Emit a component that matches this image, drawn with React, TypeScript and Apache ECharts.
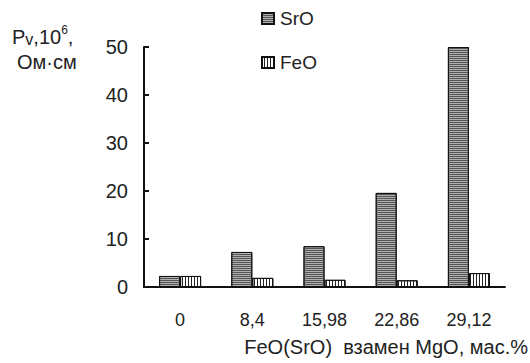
import React, { useEffect, useRef } from "react";
import * as echarts from "echarts";

const categories = ["0", "8,4", "15,98", "22,86", "29,12"];
const sroValues = [2.3, 7.3, 8.5, 19.6, 50];
const feoValues = [2.3, 1.9, 1.5, 1.4, 2.9];
const yTicks = { min: 0, max: 50, interval: 10 };

const FONT = "'Liberation Sans', Arial, sans-serif";

export default function App() {
  const ref = useRef<HTMLDivElement>(null);
  useEffect(() => {
    if (!ref.current) return;
    const chart = echarts.init(ref.current, null, { renderer: "svg" });
    chart.setOption({
      animation: false,
      backgroundColor: "#ffffff",
      textStyle: { fontFamily: FONT, color: "#222" },
      grid: { left: 144, right: 25, top: 47, bottom: 76 },
      legend: {
        orient: "vertical",
        left: 256,
        top: 4,
        itemWidth: 12,
        itemHeight: 11,
        itemGap: 25,
        icon: "rect",
        textStyle: { fontSize: 19, fontFamily: FONT, color: "#222", padding: [0, 0, 0, 1] },
        data: ["SrO", "FeO"],
      },
      xAxis: {
        type: "category",
        data: categories,
        axisLine: { lineStyle: { color: "#111", width: 2 } },
        axisTick: { inside: true, length: 5, lineStyle: { color: "#111", width: 2 } },
        axisLabel: { fontSize: 18, color: "#222", margin: 24, fontFamily: FONT },
      },
      yAxis: {
        type: "value",
        min: yTicks.min,
        max: yTicks.max,
        interval: yTicks.interval,
        splitLine: { show: false },
        axisLine: { show: true, lineStyle: { color: "#111", width: 2 } },
        axisTick: { show: true, inside: true, length: 5, lineStyle: { color: "#111", width: 2 } },
        axisLabel: { fontSize: 20, color: "#222", margin: 16, fontFamily: FONT },
      },
      series: [
        {
          name: "SrO",
          type: "bar",
          data: sroValues,
          barWidth: 21,
          barGap: "0%",
          itemStyle: {
            color: "#b0b0b0",
            borderColor: "#111",
            borderWidth: 1,
            decal: {
              symbol: "rect",
              symbolSize: 1,
              dashArrayX: [1, 0],
              dashArrayY: [1, 1],
              rotation: 0,
              color: "#555",
            },
          },
        },
        {
          name: "FeO",
          type: "bar",
          data: feoValues,
          barWidth: 21,
          barGap: "0%",
          itemStyle: {
            color: "#ffffff",
            borderColor: "#111",
            borderWidth: 1,
            decal: {
              symbol: "rect",
              symbolSize: 1,
              dashArrayX: [1, 0],
              dashArrayY: [1, 2],
              rotation: Math.PI / 2,
              color: "#222",
            },
          },
        },
      ],
      graphic: [
        {
          type: "text",
          left: 12,
          top: 24,
          style: {
            text: "{a|P}{b|v}{a|,10}{s|6}{a|,}",
            fontFamily: FONT,
            rich: {
              a: { fontSize: 20, fontFamily: FONT, fill: "#222", verticalAlign: "bottom", lineHeight: 23 },
              b: { fontSize: 16, fontFamily: FONT, fill: "#222", verticalAlign: "bottom", lineHeight: 23 },
              s: { fontSize: 12, fontFamily: FONT, fill: "#222", verticalAlign: "top", lineHeight: 23 },
            },
          },
        },
        {
          type: "text",
          left: 17,
          top: 52,
          style: { text: "Ом·см", fontSize: 20, fontFamily: FONT, fill: "#222" },
        },
        {
          type: "text",
          right: 2,
          top: 337,
          style: { text: "FeO(SrO)  взамен MgO, мас.%", fontSize: 20, fontFamily: FONT, fill: "#222" },
        },
      ],
    });
    return () => chart.dispose();
  }, []);
  return <div ref={ref} style={{ width: 530, height: 363, position: "absolute", left: 0, top: 0 }} />;
}
